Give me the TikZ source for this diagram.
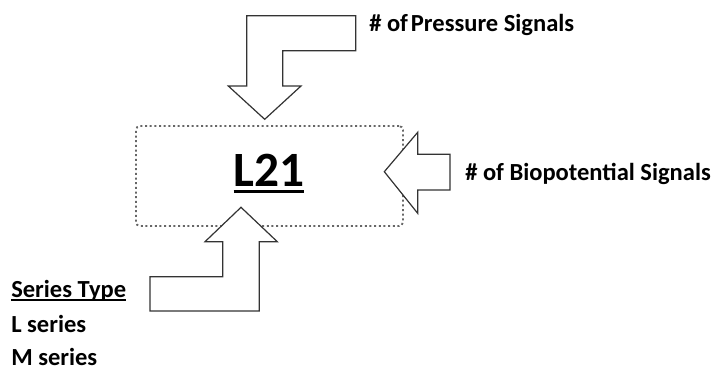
\documentclass[tikz,border=0pt]{standalone}
\usepackage{fontspec}
\setmainfont{Carlito}
\newcommand{\ulbox}[3]{\setbox0\hbox{#3}\rlap{\rule[-#1]{\wd0}{#2}}\box0}

\begin{document}
\begin{tikzpicture}[x=0.75pt,y=-0.75pt]
		\tikzset{
			blockarrow/.style={draw=black!80,line width=0.9pt,fill=white,line join=miter},
			lbl/.style={font=\fontsize{18.4}{21}\selectfont\bfseries,inner sep=0pt,anchor=base west}
		}
		\useasboundingbox (0,0) rectangle (717,369);
		% dotted box and the code
		\node (box) at (269.5,176) [draw=black!60,dash pattern=on 1.5pt off 2pt,line width=1.4pt,
			rounded corners=3pt,minimum width=200.25pt,minimum height=75pt]{};
		\node (code) at (269,186)[anchor=base,inner sep=0pt,font=\fontsize{37}{40}\selectfont\bfseries]{\ulbox{5pt}{1.8pt}{L21}};
		% block arrows
		\draw[blockarrow] (246.7,15.7)--(355.7,15.7)--(355.7,50.7)--(282.7,50.7)--(282.7,86)
			--(301,86)--(264.7,119.3)--(228.3,86)--(246.7,86)--cycle;
		\draw[blockarrow] (384.3,171.7)--(417.7,132.3)--(417.7,154.3)--(450,154.3)--(450,190)
			--(417.7,190)--(417.7,213.3)--cycle;
		\draw[blockarrow] (241,207.3)--(277.3,241.7)--(259.3,241.7)--(259.3,311)--(150,311)
			--(150,276.7)--(222.7,276.7)--(222.7,241.7)--(205,241.7)--cycle;
		% texts
		\node (pres) at (369,31.7)[lbl]{\# of\hspace{0.12em}Pressure Signals};
		\node (bio) at (465,180)[lbl]{\# of Biopotential Signals};
		\node (series) at (11,297.5)[lbl]{\ulbox{2.6pt}{1.6pt}{Series Type}};
		\node (lser) at (11,332)[lbl]{L series};
		\node (mser) at (11,365)[lbl]{M series};
	\end{tikzpicture}
\end{document}
